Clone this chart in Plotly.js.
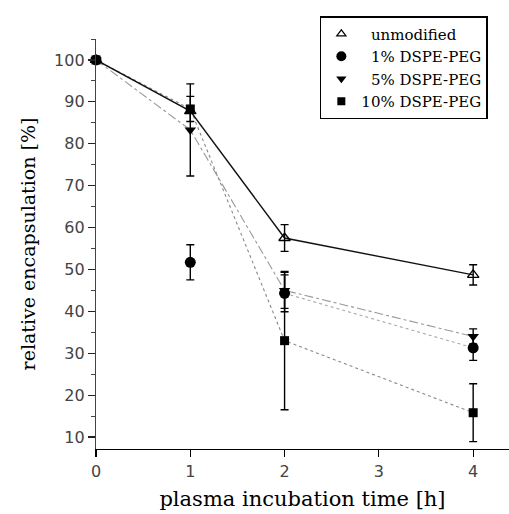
<!DOCTYPE html>
<html>
<head>
<meta charset="utf-8">
<script src="https://cdn.plot.ly/plotly-3.0.1.min.js"></script>
<style>html,body{margin:0;padding:0;background:#fff;}#chart{width:509px;height:514px;}</style>
</head>
<body>
<div id="chart"></div>
<script>
// Data
const times = [0, 1, 2, 4];
const seriesNames = ["\u00a0\u00a0unmodified", "\u00a0\u00a01% DSPE-PEG", "\u00a0\u00a05% DSPE-PEG", "10% DSPE-PEG"];
const unmodified = [100, 87.8, 57.5, 48.7];
const unmodifiedErr = [0, 0, 3.2, 2.4];
const peg1 = [100, 51.7, 44.3, 31.3];
const peg1Err = [0, 4.2, 4.4, 3.0];
const peg5 = [100, 83.3, 45.0, 34.0];
const peg5Err = [0, 11.0, 4.3, 1.8];
const peg10 = [100, 88.3, 33.0, 15.8];
const peg10Err = [0, 3.0, 16.5, 6.9];
const xTicks = [0, 1, 2, 3, 4];
const yTicks = [10, 20, 30, 40, 50, 60, 70, 80, 90, 100];

const serif = "DejaVu Serif, serif";
const errStyle = (arr) => ({type: 'data', array: arr, visible: true, color: '#000', thickness: 1.4, width: 4});

const traces = [
  // lines (no markers)
  {x: times, y: peg10, mode: 'lines', line: {color: '#888', width: 1.1, dash: 'dot'}, showlegend: false, hoverinfo: 'skip'},
  {x: times, y: peg5, mode: 'lines', line: {color: '#999', width: 1.1, dash: 'dashdot'}, showlegend: false, hoverinfo: 'skip'},
  {x: times.slice(2), y: peg1.slice(2), mode: 'lines', line: {color: '#aaa', width: 1.1, dash: 'dot'}, showlegend: false, hoverinfo: 'skip'},
  {x: times, y: unmodified, mode: 'lines', line: {color: '#111', width: 1.4}, showlegend: false, hoverinfo: 'skip'},
  // markers + error bars
  {x: times, y: peg10, mode: 'markers', marker: {symbol: 'square', size: 9, color: '#000'}, error_y: errStyle(peg10Err), showlegend: false, cliponaxis: false},
  {x: times, y: peg5, mode: 'markers', marker: {symbol: 'triangle-down', size: 10, color: '#000'}, error_y: errStyle(peg5Err), showlegend: false, cliponaxis: false},
  {x: times, y: peg1, mode: 'markers', marker: {symbol: 'circle', size: 11, color: '#000'}, error_y: errStyle(peg1Err), showlegend: false, cliponaxis: false},
  {x: times, y: unmodified, mode: 'markers', marker: {symbol: 'triangle-up-open', size: 10, color: '#000', line: {width: 1.3, color: '#000'}}, error_y: errStyle(unmodifiedErr), showlegend: false, cliponaxis: false},
  // legend entries
  {x: [null], y: [null], name: seriesNames[0], mode: 'markers', marker: {symbol: 'triangle-up-open', size: 8, color: '#000', line: {width: 1.2, color: '#000'}}},
  {x: [null], y: [null], name: seriesNames[1], mode: 'markers', marker: {symbol: 'circle', size: 10, color: '#000'}},
  {x: [null], y: [null], name: seriesNames[2], mode: 'markers', marker: {symbol: 'triangle-down', size: 9, color: '#000'}},
  {x: [null], y: [null], name: seriesNames[3], mode: 'markers', marker: {symbol: 'square', size: 8, color: '#000'}}
];

const layout = {
  width: 509, height: 514,
  margin: {l: 96, r: 0, t: 39, b: 65},
  paper_bgcolor: '#fff', plot_bgcolor: '#fff',
  showlegend: true,
  legend: {
    x: 0.542, y: 1.056, xanchor: 'left', yanchor: 'top',
    bordercolor: '#000', borderwidth: 1.5, bgcolor: '#fff',
    font: {family: serif, size: 15, color: '#000'},
    itemwidth: 30, traceorder: 'normal', tracegroupgap: 0
  },
  xaxis: {
    range: [0, 4.38], tickvals: xTicks, ticktext: xTicks.map(String),
    showgrid: false, zeroline: false, showline: true, linecolor: '#000', linewidth: 1.3,
    ticks: 'outside', ticklen: 7, tickwidth: 1.2, tickcolor: '#000',
    tickfont: {family: 'DejaVu Sans, sans-serif', size: 16, color: '#444'},
    title: {text: 'plasma incubation time [h]', font: {family: serif, size: 21, color: '#000'}, standoff: 11}
  },
  yaxis: {
    range: [7.14, 105], tickvals: yTicks, ticktext: yTicks.map(String),
    showgrid: false, zeroline: false, showline: true, linecolor: '#444', linewidth: 1.2,
    ticks: 'outside', ticklen: 7, tickwidth: 1.2, tickcolor: '#222',
    minor: {dtick: 5, tick0: 5, ticks: 'outside', ticklen: 4, tickcolor: '#444', tickwidth: 1, showgrid: false},
    tickfont: {family: 'DejaVu Sans, sans-serif', size: 16, color: '#444'},
    title: {text: 'relative encapsulation [%]', font: {family: serif, size: 19, color: '#000'}, standoff: 13}
  }
};

Plotly.newPlot('chart', traces, layout, {displayModeBar: false, staticPlot: true});
</script>
</body>
</html>
